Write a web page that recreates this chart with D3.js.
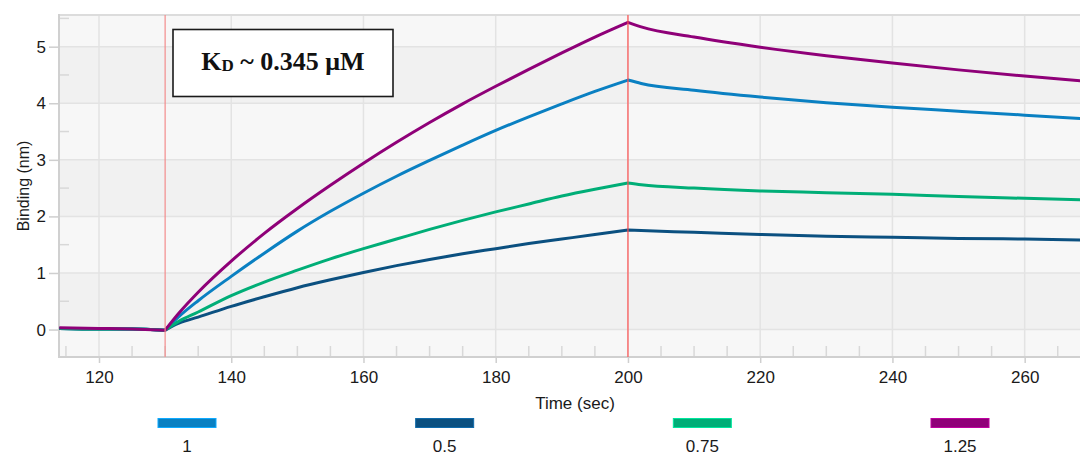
<!DOCTYPE html>
<html>
<head>
<meta charset="utf-8">
<script src="https://cdn.jsdelivr.net/npm/d3@7"></script>
<style>
  html, body { margin: 0; padding: 0; background: #ffffff; }
  svg { display: block; }
</style>
</head>
<body>
<svg id="chart" width="1080" height="456"></svg>
<script>
// Sensorgram: binding response (nm) vs time (sec) for four analyte concentrations
const times = [114, 120, 125, 130, 132, 135, 140, 145, 150, 155, 160, 165, 170, 175, 180, 185, 190, 195, 200, 202, 210, 220, 230, 240, 250, 260, 270];

const conc1    = [0.02, 0.01, 0.01, -0.01, 0.22, 0.51, 0.94, 1.35, 1.74, 2.09, 2.41, 2.71, 2.99, 3.26, 3.52, 3.76, 3.99, 4.21, 4.41, 4.35, 4.23, 4.11, 4.01, 3.93, 3.86, 3.79, 3.72];
const conc05   = [0.02, 0.01, 0.01, -0.01, 0.11, 0.22, 0.41, 0.58, 0.74, 0.88, 1.01, 1.13, 1.24, 1.34, 1.43, 1.52, 1.60, 1.68, 1.76, 1.75, 1.72, 1.68, 1.65, 1.63, 1.61, 1.60, 1.58];
const conc075  = [0.02, 0.01, 0.01, -0.01, 0.14, 0.31, 0.60, 0.84, 1.05, 1.25, 1.43, 1.60, 1.77, 1.93, 2.08, 2.22, 2.36, 2.48, 2.59, 2.56, 2.50, 2.45, 2.42, 2.39, 2.35, 2.32, 2.29];
const conc125  = [0.03, 0.02, 0.01, -0.01, 0.28, 0.66, 1.21, 1.70, 2.14, 2.55, 2.94, 3.31, 3.66, 3.99, 4.30, 4.60, 4.89, 5.17, 5.43, 5.35, 5.17, 4.99, 4.84, 4.71, 4.59, 4.48, 4.38];

const seriesNames  = ["1", "0.5", "0.75", "1.25"];
const seriesValues = [conc1, conc05, conc075, conc125];
const seriesColors = ["#0a80c2", "#0b5080", "#00ae77", "#8f0078"];

const xTicks = [120, 140, 160, 180, 200, 220, 240, 260];
const yTicks = [0, 1, 2, 3, 4, 5];
const phaseMarks = [130, 200];   // association start / dissociation start
const kdLabel = { main: "K", sub: "D", rest: " ~ 0.345 μM" };

const SANS = "'Liberation Sans', Arial, sans-serif";
const SERIF = "'Liberation Serif', 'DejaVu Serif', serif";

const svg = d3.select("#chart");
const W = 1080, H = 456;
const plot = { left: 59, top: 15, right: 1082, bottom: 357 };

const x = d3.scaleLinear().domain([113.95, 268.67]).range([plot.left, plot.right]);
const y = d3.scaleLinear().domain([-0.485, 5.56]).range([plot.bottom, plot.top]);

svg.append("defs").append("clipPath").attr("id", "plotClip")
  .append("rect")
  .attr("x", plot.left).attr("y", plot.top)
  .attr("width", plot.right - plot.left).attr("height", plot.bottom - plot.top);

// background bands between major y gridlines
const bandEdges = [y.domain()[0], ...yTicks, y.domain()[1]];
const bands = svg.append("g").attr("clip-path", "url(#plotClip)");
for (let i = 0; i < bandEdges.length - 1; i++) {
  const lo = bandEdges[i], hi = bandEdges[i + 1];
  const dark = Number.isInteger(lo) && lo % 2 === 0 && lo >= 0 && hi - lo === 1;
  bands.append("rect")
    .attr("x", plot.left).attr("width", plot.right - plot.left)
    .attr("y", y(hi)).attr("height", y(lo) - y(hi))
    .attr("fill", dark ? "#f1f1f1" : "#f7f7f7");
}

// gridlines
const grid = svg.append("g").attr("clip-path", "url(#plotClip)");
grid.selectAll("line.gy").data(yTicks).join("line")
  .attr("x1", plot.left).attr("x2", plot.right)
  .attr("y1", d => y(d)).attr("y2", d => y(d))
  .attr("stroke", "#e3e3e3").attr("stroke-width", 1.5);
grid.selectAll("line.gx").data(xTicks).join("line")
  .attr("x1", d => x(d)).attr("x2", d => x(d))
  .attr("y1", plot.top).attr("y2", plot.bottom)
  .attr("stroke", "#e3e3e3").attr("stroke-width", 1.5);

// minor ticks inside the frame
const minorX = d3.range(115, 270, 5).filter(t => t % 20 !== 0);
grid.selectAll("line.mx").data(minorX).join("line")
  .attr("x1", d => x(d)).attr("x2", d => x(d))
  .attr("y1", plot.bottom - 11).attr("y2", plot.bottom)
  .attr("stroke", "#d8d8d8").attr("stroke-width", 1.5);
const minorY = d3.range(-0.5, 5.6, 0.5).filter(v => !Number.isInteger(v) && v > y.domain()[0]);
grid.selectAll("line.my").data(minorY).join("line")
  .attr("x1", plot.left).attr("x2", plot.left + 10)
  .attr("y1", d => y(d)).attr("y2", d => y(d))
  .attr("stroke", "#d8d8d8").attr("stroke-width", 1.5);

// frame
svg.append("line").attr("x1", plot.left).attr("x2", W).attr("y1", plot.top).attr("y2", plot.top)
  .attr("stroke", "#dcdcdc").attr("stroke-width", 2);
svg.append("line").attr("x1", plot.left).attr("x2", plot.left).attr("y1", plot.top - 1).attr("y2", plot.bottom + 1)
  .attr("stroke", "#d0d0d0").attr("stroke-width", 2);
svg.append("line").attr("x1", plot.left).attr("x2", W).attr("y1", plot.bottom).attr("y2", plot.bottom)
  .attr("stroke", "#d0d0d0").attr("stroke-width", 2);

// axes
const xAxis = d3.axisBottom(x).tickValues(xTicks).tickSize(6).tickPadding(8).tickFormat(d3.format("d"));
const gx = svg.append("g").attr("transform", `translate(0,${plot.bottom})`).call(xAxis);
gx.select(".domain").remove();
gx.selectAll(".tick line").attr("stroke", "#cfcfcf").attr("stroke-width", 1.5);
gx.selectAll(".tick text").attr("font-size", 17).attr("fill", "#1a1a1a").style("font-family", SANS);

const yAxis = d3.axisLeft(y).tickValues(yTicks).tickSize(10).tickPadding(3).tickFormat(d3.format("d"));
const gy = svg.append("g").attr("transform", `translate(${plot.left},0)`).call(yAxis);
gy.select(".domain").remove();
gy.selectAll(".tick line").attr("stroke", "#cfcfcf").attr("stroke-width", 1.5);
gy.selectAll(".tick text").attr("font-size", 17).attr("fill", "#1a1a1a").style("font-family", SANS);

svg.append("text")
  .attr("transform", "translate(29,186) rotate(-90)")
  .attr("text-anchor", "middle")
  .attr("font-size", 16)
  .attr("fill", "#1a1a1a")
  .style("font-family", SANS)
  .text("Binding (nm)");

svg.append("text")
  .attr("x", 575).attr("y", 409)
  .attr("text-anchor", "middle")
  .attr("font-size", 17)
  .attr("fill", "#1a1a1a")
  .style("font-family", SANS)
  .text("Time (sec)");

// binding curves: each phase (baseline, association, dissociation) is smoothed on its own
const line = d3.line()
  .x(p => x(p.t))
  .y(p => y(p.v))
  .curve(d3.curveMonotoneX);

const phaseBounds = [[times[0], phaseMarks[0]], [phaseMarks[0], phaseMarks[1]], [phaseMarks[1], times[times.length - 1]]];
function curvePath(values) {
  const pts = times.map((t, i) => ({ t, v: values[i] }));
  return phaseBounds.map(([a, b], k) => {
    const seg = line(pts.filter(p => p.t >= a && p.t <= b));
    return k === 0 ? seg : "L" + seg.slice(1);
  }).join("");
}

const curves = svg.append("g").attr("clip-path", "url(#plotClip)");
curves.selectAll("path").data(seriesValues).join("path")
  .attr("d", d => curvePath(d))
  .attr("fill", "none")
  .attr("stroke", (d, i) => seriesColors[i])
  .attr("stroke-width", 3)
  .attr("stroke-linejoin", "round");

// phase markers
svg.append("g").selectAll("line").data(phaseMarks).join("line")
  .attr("x1", d => x(d)).attr("x2", d => x(d))
  .attr("y1", plot.top).attr("y2", plot.bottom)
  .attr("stroke", (d, i) => i === 0 ? "#f38c8c" : "#ff5050")
  .attr("stroke-width", 1.2);

// KD annotation box
const box = svg.append("g");
box.append("rect")
  .attr("x", 173).attr("y", 29.5).attr("width", 220).attr("height", 67)
  .attr("fill", "#ffffff").attr("stroke", "#1a1a1a").attr("stroke-width", 1.6);
const kd = box.append("text")
  .attr("x", 283).attr("y", 70)
  .attr("text-anchor", "middle")
  .attr("font-weight", "bold")
  .attr("font-size", 26)
  .attr("fill", "#111111")
  .style("font-family", SERIF)
  .style("font-variant-numeric", "oldstyle-nums");
kd.append("tspan").text(kdLabel.main);
kd.append("tspan").attr("font-size", 17).attr("dy", 1).text(kdLabel.sub);
kd.append("tspan").attr("dy", -1).text(kdLabel.rest);

// legend
const legendX = d3.scalePoint().domain(seriesNames).range([187, 960]);
const legend = svg.append("g");
const items = legend.selectAll("g").data(seriesNames).join("g")
  .attr("transform", d => `translate(${legendX(d)},0)`);
items.append("rect")
  .attr("x", -29).attr("y", 418.5).attr("width", 58).attr("height", 9)
  .attr("fill", (d, i) => seriesColors[i])
  .attr("stroke", (d, i) => d3.color(seriesColors[i]).brighter(0.8))
  .attr("stroke-width", 1);
items.append("text")
  .attr("x", 0).attr("y", 452)
  .attr("text-anchor", "middle")
  .attr("font-size", 17)
  .attr("fill", "#1a1a1a")
  .style("font-family", SANS)
  .text(d => d);
</script>
</body>
</html>
